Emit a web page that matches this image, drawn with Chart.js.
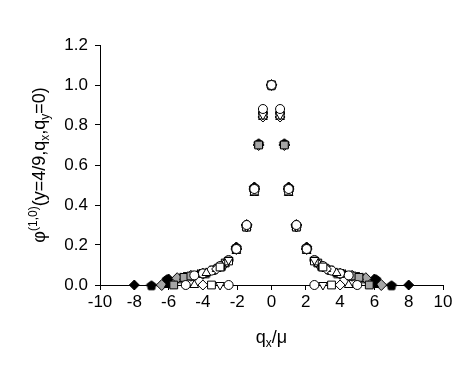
<!DOCTYPE html>
<html>
<head>
<meta charset="utf-8">
<script src="https://cdn.jsdelivr.net/npm/chart.js@4"></script>
<style>
  body { margin: 0; background: #fff; }
  canvas { display: block; }
</style>
</head>
<body>
<canvas id="phiChart" width="471" height="365"></canvas>
<script>
// positive q_x/mu values for each series (mirrored to negative side) and phi values
const qCircleA = [0, 0.5, 1.0, 1.45, 2.05, 2.5];
const phiCircleA = [1.0, 0.88, 0.48, 0.30, 0.18, 0];

const qTriDown = [0, 0.5, 1.0, 1.45, 2.05, 2.5, 3.0];
const phiTriDown = [1.0, 0.85, 0.48, 0.29, 0.18, 0.125, 0];

const qSquare = [0, 0.5, 1.0, 1.45, 2.05, 2.5, 3.0, 3.5];
const phiSquare = [1.0, 0.85, 0.47, 0.29, 0.18, 0.12, 0.09, 0];

const qDiamond = [0, 0.5, 1.0, 1.45, 2.05, 2.6, 3.2, 4.0];
const phiDiamond = [1.0, 0.84, 0.47, 0.29, 0.18, 0.115, 0.08, 0];

const qTriUp = [0, 0.5, 1.0, 1.45, 2.05, 2.6, 3.2, 3.8, 4.5];
const phiTriUp = [1.0, 0.84, 0.46, 0.29, 0.17, 0.115, 0.08, 0.06, 0];

const qCircleB = [0, 0.5, 1.0, 1.45, 2.05, 2.5, 3.0, 3.5, 4.0, 4.5, 5.0];
const phiCircleB = [1.0, 0.86, 0.48, 0.30, 0.18, 0.125, 0.095, 0.072, 0.058, 0.048, 0];

const qGreySquare = [0, 0.75, 1.0, 1.45, 2.05, 2.7, 3.4, 4.0, 4.7, 5.1, 5.7];
const phiGreySquare = [1.0, 0.70, 0.48, 0.29, 0.18, 0.11, 0.075, 0.058, 0.045, 0.038, 0];

const qBlackTri = [0, 0.75, 1.0, 1.45, 2.05, 2.8, 3.5, 4.3, 5.1, 6.0];
const phiBlackTri = [1.0, 0.70, 0.48, 0.30, 0.18, 0.105, 0.07, 0.052, 0.04, 0];

const qGreyDiamond = [0, 0.75, 1.0, 1.45, 2.05, 2.7, 3.3, 4.0, 4.7, 5.5, 6.4];
const phiGreyDiamond = [1.0, 0.70, 0.48, 0.30, 0.18, 0.11, 0.078, 0.056, 0.046, 0.034, 0];

const qPentagon = [0, 0.75, 1.0, 1.45, 2.05, 2.9, 3.8, 4.6, 5.3, 6.1, 7.0];
const phiPentagon = [1.0, 0.71, 0.49, 0.30, 0.19, 0.095, 0.062, 0.048, 0.037, 0.03, 0];

const qBlackDiamond = [0, 0.75, 1.0, 1.45, 2.05, 3.0, 4.0, 5.0, 6.0, 8.0];
const phiBlackDiamond = [1.0, 0.70, 0.49, 0.30, 0.19, 0.09, 0.056, 0.04, 0.03, 0];

const xTicks = [-10, -8, -6, -4, -2, 0, 2, 4, 6, 8, 10];
const yTicks = [0, 0.2, 0.4, 0.6, 0.8, 1.0, 1.2];

const FONT = '"Liberation Sans", Arial, sans-serif';

function mirror(q, phi) {
  const pts = [];
  for (let i = q.length - 1; i > 0; i--) pts.push({ x: -q[i], y: phi[i] });
  for (let i = 0; i < q.length; i++) pts.push({ x: q[i], y: phi[i] });
  return pts;
}

function pentagon(r, fill) {
  const c = document.createElement('canvas');
  c.width = c.height = 2 * r + 2;
  const g = c.getContext('2d');
  g.beginPath();
  for (let k = 0; k < 5; k++) {
    const a = -Math.PI / 2 + k * 2 * Math.PI / 5;
    const px = r + 1 + r * Math.cos(a), py = r + 1 + r * Math.sin(a) + 0.8;
    k ? g.lineTo(px, py) : g.moveTo(px, py);
  }
  g.closePath();
  g.fillStyle = fill;
  g.fill();
  g.strokeStyle = '#000';
  g.lineWidth = 1;
  g.stroke();
  return c;
}

function series(q, phi, style, fill, radius, rot) {
  return {
    data: mirror(q, phi),
    pointStyle: style,
    pointBackgroundColor: fill,
    pointBorderColor: '#000',
    pointBorderWidth: 1,
    pointRadius: radius,
    pointRotation: rot || 0,
    showLine: false,
    clip: false
  };
}

const GREY = '#a6a6a6';

// first dataset is drawn on top
const datasets = [
  series(qCircleA, phiCircleA, 'circle', '#fff', 4.5),
  series(qTriDown, phiTriDown, 'triangle', '#fff', 5, 180),
  series(qSquare, phiSquare, 'rect', '#fff', 5.5),
  series(qDiamond, phiDiamond, 'rectRot', '#fff', 5),
  series(qTriUp, phiTriUp, 'triangle', '#fff', 5),
  series(qCircleB, phiCircleB, 'circle', '#fff', 4.5),
  series(qGreySquare, phiGreySquare, 'rect', GREY, 5.5),
  series(qBlackTri, phiBlackTri, 'triangle', '#000', 5),
  series(qGreyDiamond, phiGreyDiamond, 'rectRot', GREY, 5.5),
  series(qPentagon, phiPentagon, pentagon(5, '#000'), '#000', 5),
  series(qBlackDiamond, phiBlackDiamond, 'rectRot', '#000', 5)
];

function drawRich(ctx, parts) {
  let w = 0;
  parts.forEach(p => { ctx.font = p[1] + 'px ' + FONT; w += ctx.measureText(p[0]).width; });
  let x = -w / 2;
  parts.forEach(p => {
    ctx.font = p[1] + 'px ' + FONT;
    ctx.fillText(p[0], x, p[2]);
    x += ctx.measureText(p[0]).width;
  });
}

const axisTitles = {
  id: 'axisTitles',
  afterDraw(chart) {
    const ctx = chart.ctx;
    const a = chart.chartArea;
    ctx.save();
    ctx.fillStyle = '#000';
    ctx.textBaseline = 'alphabetic';
    ctx.textAlign = 'left';
    // y title
    ctx.save();
    ctx.translate(45, (a.top + a.bottom) / 2);
    ctx.rotate(-Math.PI / 2);
    drawRich(ctx, [
      ['\u03c6', 18, 0], ['(1,0)', 12, -8], ['(y=4/9,q', 18, 0],
      ['x', 12, 4], [',q', 18, 0], ['y', 12, 4], ['=0)', 18, 0]
    ]);
    ctx.restore();
    // x title
    ctx.save();
    ctx.translate((a.left + a.right) / 2, 343);
    drawRich(ctx, [['q', 18, 0], ['x', 12, 4], ['/\u03bc', 18, 0]]);
    ctx.restore();
    ctx.restore();
  }
};

new Chart(document.getElementById('phiChart').getContext('2d'), {
  type: 'scatter',
  data: { datasets: datasets },
  options: {
    responsive: false,
    animation: false,
    layout: { padding: { top: 45, right: 28, left: 0, bottom: 0 } },
    plugins: { legend: { display: false }, tooltip: { enabled: false } },
    scales: {
      x: {
        type: 'linear',
        min: -10,
        max: 10,
        afterFit: s => { s.height = 80; },
        afterBuildTicks: s => { s.ticks = xTicks.map(v => ({ value: v })); },
        ticks: { color: '#000', font: { family: FONT, size: 17 }, padding: 2, maxRotation: 0 },
        grid: { drawOnChartArea: false, color: '#000', tickLength: 5 },
        border: { color: '#000' }
      },
      y: {
        min: 0,
        max: 1.2,
        afterFit: s => { s.width = 100; },
        afterBuildTicks: s => { s.ticks = yTicks.map(v => ({ value: v })); },
        ticks: { color: '#000', font: { family: FONT, size: 17 }, padding: 7, callback: v => v.toFixed(1) },
        grid: { drawOnChartArea: false, color: '#000', tickLength: 5 },
        border: { color: '#000' }
      }
    }
  },
  plugins: [axisTitles]
});
</script>
</body>
</html>
